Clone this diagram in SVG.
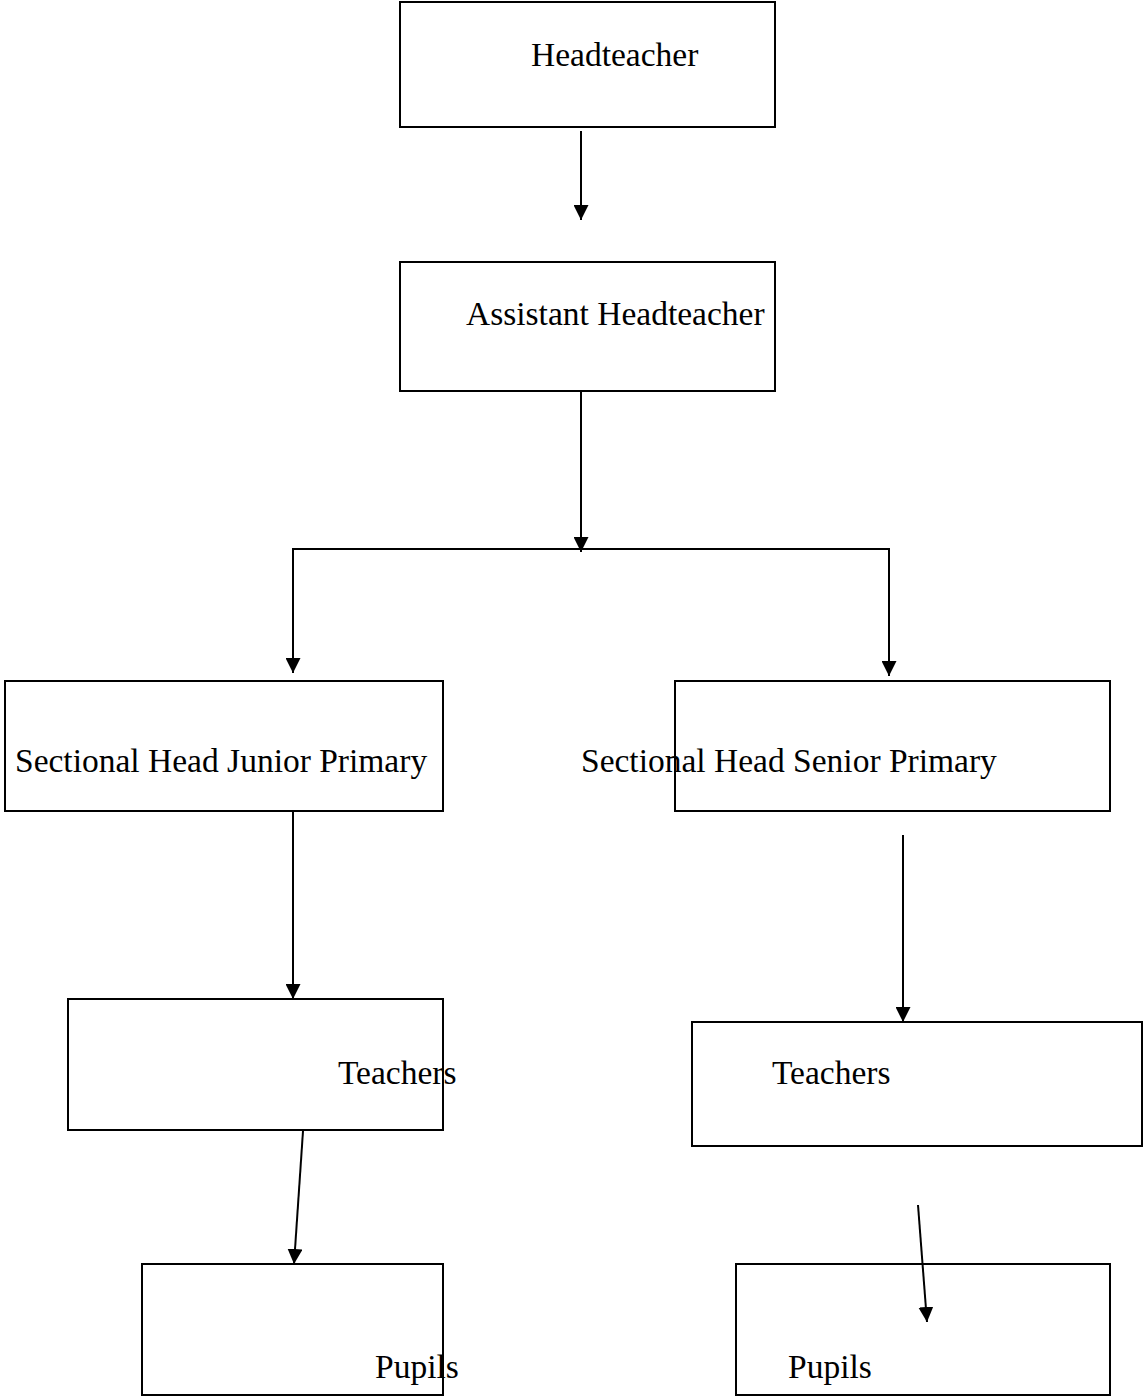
<svg xmlns="http://www.w3.org/2000/svg" width="1143" height="1399" viewBox="0 0 1143 1399">
<style>
.box{fill:#fff;stroke:#000;stroke-width:2}
.lbl{font-family:"Liberation Serif","Times New Roman",serif;font-size:33.5px;fill:#000}
.ln{stroke:#000;stroke-width:2;fill:none}
</style>
<defs>
<marker id="ah" viewBox="0 0 10 10" refX="10" refY="5" markerUnits="userSpaceOnUse" markerWidth="15" markerHeight="15" orient="auto">
<path d="M0,0 L10,5 L0,10 Z" fill="#000"/>
</marker>
</defs>
<rect width="1143" height="1399" fill="#fff"/>
<g id="headteacher"><rect class="box" x="400" y="2" width="375" height="125"/><text class="lbl" x="531" y="66">Headteacher</text></g>
<g id="assistant"><rect class="box" x="400" y="262" width="375" height="129"/><text class="lbl" x="466" y="325">Assistant Headteacher</text></g>
<g id="junior"><rect class="box" x="5" y="681" width="438" height="130"/><text class="lbl" x="15" y="772">Sectional Head Junior Primary</text></g>
<g id="senior"><rect class="box" x="675" y="681" width="435" height="130"/><text class="lbl" x="581" y="772">Sectional Head Senior Primary</text></g>
<g id="teachers-left"><rect class="box" x="68" y="999" width="375" height="131"/><text class="lbl" x="338" y="1084">Teachers</text></g>
<g id="teachers-right"><rect class="box" x="692" y="1022" width="450" height="124"/><text class="lbl" x="772" y="1084">Teachers</text></g>
<g id="pupils-left"><rect class="box" x="142" y="1264" width="301" height="131"/><text class="lbl" x="375" y="1378">Pupils</text></g>
<g id="pupils-right"><rect class="box" x="736" y="1264" width="374" height="131"/><text class="lbl" x="788" y="1378">Pupils</text></g>
<g id="connectors">
<line class="ln" x1="581" y1="131" x2="581" y2="220" marker-end="url(#ah)"/>
<line class="ln" x1="581" y1="391" x2="581" y2="552" marker-end="url(#ah)"/>
<polyline class="ln" points="293,672 293,549 889,549 889,675"/>
<line class="ln" x1="293" y1="560" x2="293" y2="673" marker-end="url(#ah)"/>
<line class="ln" x1="889" y1="560" x2="889" y2="676" marker-end="url(#ah)"/>
<line class="ln" x1="293" y1="811" x2="293" y2="999" marker-end="url(#ah)"/>
<line class="ln" x1="903" y1="835" x2="903" y2="1022" marker-end="url(#ah)"/>
<line class="ln" x1="303" y1="1131" x2="294" y2="1264" marker-end="url(#ah)"/>
<line class="ln" x1="918" y1="1205" x2="927" y2="1322" marker-end="url(#ah)"/>
</g>
</svg>
